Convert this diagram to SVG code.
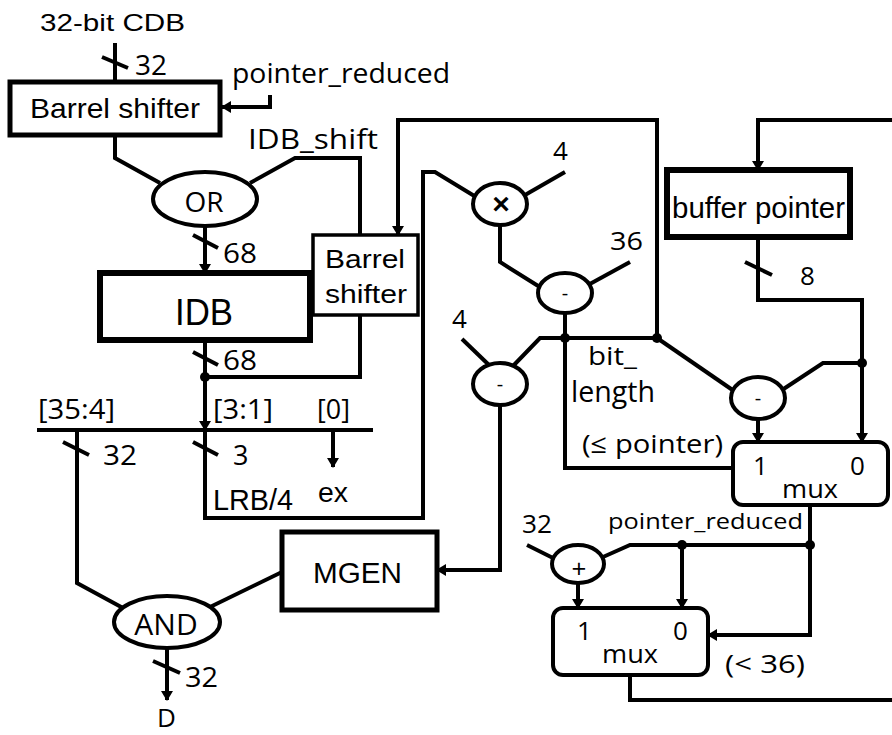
<svg xmlns="http://www.w3.org/2000/svg" width="892" height="735" viewBox="0 0 892 735">
<defs>
<style>
.w{fill:none;stroke:#000;stroke-width:4;stroke-linejoin:miter}
.a{marker-end:url(#ah)}
.box{fill:#fff;stroke:#000}
.ar{font-family:"Liberation Sans",Arial,sans-serif;fill:#000}
.hu{font-family:"Open Sans","Noto Sans",sans-serif;fill:#000}
.dot{fill:#000}
</style>
<marker id="ah" viewBox="0 0 10 12" refX="9" refY="6" markerWidth="10" markerHeight="12" markerUnits="userSpaceOnUse" orient="auto">
<path d="M0,0 L10,6 L0,12 z" fill="#000"/>
</marker>
</defs>
<rect width="892" height="735" fill="#fff"/>
<g id="connectors">
<path class="w" d="M115,43 V82"/>
<path class="w" d="M102,57 L128,68"/>
<path class="w a" d="M270,95 V107 H222"/>
<path class="w" d="M115,135 V158 L160,183"/>
<path class="w" d="M250,183 L295,158 H360 V235"/>
<path class="w a" d="M205,226 V273"/>
<path class="w" d="M193,235 L218,248"/>
<path class="w a" d="M205,340 V430"/>
<path class="w" d="M193,352 L218,365"/>
<path class="w" d="M205,377 H360 V315"/>
<path class="w" d="M37,430 H373"/>
<path class="w" d="M77,430 V583 L123,608"/>
<path class="w" d="M63,442 L89,455"/>
<path class="w" d="M205,430 V518 H423 V172 H435 L476,197"/>
<path class="w" d="M193,442 L218,455"/>
<path class="w a" d="M333,430 V467"/>
<path class="w a" d="M657,338 V120 H398 V235"/>
<path class="w" d="M525,195 L565,172"/>
<path class="w" d="M500,225 V262 L543,289"/>
<path class="w" d="M588,285 L630,262"/>
<path class="w" d="M565,313 V468 H733"/>
<path class="w" d="M513,366 L540,338 H657"/>
<path class="w" d="M462,339 L490,366"/>
<path class="w a" d="M500,405 V570 H437"/>
<path class="w" d="M657,338 L734,391"/>
<path class="w" d="M782,390 L823,363 H862"/>
<path class="w a" d="M758,419 V442"/>
<path class="w a" d="M892,120 H758 V170"/>
<path class="w a" d="M758,237 V300 H862 V442"/>
<path class="w" d="M745,262 L772,275"/>
<path class="w a" d="M810,505 V635 H708"/>
<path class="w" d="M527,545 L553,558"/>
<path class="w" d="M603,557 L630,545 H810"/>
<path class="w a" d="M578,583 V608"/>
<path class="w a" d="M682,545 V608"/>
<path class="w" d="M630,675 V700 H892"/>
<path class="w" d="M282,572 L208,608"/>
<path class="w a" d="M167,648 V700"/>
<path class="w" d="M153,661 L180,673"/>
<circle class="dot" cx="205" cy="377" r="5"/>
<circle class="dot" cx="565" cy="338" r="5"/>
<circle class="dot" cx="657" cy="338" r="5"/>
<circle class="dot" cx="862" cy="363" r="5"/>
<circle class="dot" cx="682" cy="545" r="5"/>
<circle class="dot" cx="810" cy="545" r="5"/>
</g>
<g id="labels">
<text class="ar" x="40" y="31" font-size="24" textLength="145" lengthAdjust="spacingAndGlyphs">32-bit CDB</text>
<text class="hu" x="135" y="75" font-size="28" textLength="32" lengthAdjust="spacingAndGlyphs">32</text>
<text class="hu" x="232" y="83" font-size="27" textLength="218" lengthAdjust="spacingAndGlyphs">pointer_reduced</text>
<text class="hu" x="248" y="149" font-size="27" textLength="130" lengthAdjust="spacingAndGlyphs">IDB_shift</text>
<text class="hu" x="223" y="263" font-size="27" textLength="34" lengthAdjust="spacingAndGlyphs">68</text>
<text class="hu" x="223" y="370" font-size="27" textLength="34" lengthAdjust="spacingAndGlyphs">68</text>
<text class="hu" x="38" y="419" font-size="27" textLength="77" lengthAdjust="spacingAndGlyphs">[35:4]</text>
<text class="hu" x="213" y="419" font-size="27" textLength="60" lengthAdjust="spacingAndGlyphs">[3:1]</text>
<text class="hu" x="317" y="419" font-size="27" textLength="33" lengthAdjust="spacingAndGlyphs">[0]</text>
<text class="hu" x="103" y="465" font-size="27" textLength="34" lengthAdjust="spacingAndGlyphs">32</text>
<text class="hu" x="233" y="465" font-size="27">3</text>
<text class="ar" x="318" y="502" font-size="28" textLength="30" lengthAdjust="spacingAndGlyphs">ex</text>
<text class="ar" x="213" y="510" font-size="29" textLength="80" lengthAdjust="spacingAndGlyphs">LRB/4</text>
<text class="hu" x="185" y="687" font-size="27" textLength="33" lengthAdjust="spacingAndGlyphs">32</text>
<text class="hu" x="157" y="727" font-size="26">D</text>
<text class="hu" x="553" y="160" font-size="26">4</text>
<text class="hu" x="610" y="250" font-size="26" textLength="33" lengthAdjust="spacingAndGlyphs">36</text>
<text class="hu" x="452" y="328" font-size="26">4</text>
<text class="hu" x="800" y="285" font-size="26">8</text>
<text class="hu" x="588" y="365" font-size="26" textLength="49" lengthAdjust="spacingAndGlyphs">bit_</text>
<text class="hu" x="571" y="402" font-size="29" textLength="84" lengthAdjust="spacingAndGlyphs">length</text>
<text class="hu" x="582" y="453" font-size="26" textLength="141" lengthAdjust="spacingAndGlyphs">(≤ pointer)</text>
<text class="hu" x="522" y="533" font-size="26" textLength="30" lengthAdjust="spacingAndGlyphs">32</text>
<text class="hu" x="608" y="529" font-size="21" textLength="195" lengthAdjust="spacingAndGlyphs">pointer_reduced</text>
<text class="hu" x="725" y="673" font-size="26" textLength="80" lengthAdjust="spacingAndGlyphs">(&lt; 36)</text>
</g>
<g id="barrel-shifter-top">
<rect class="box" x="10" y="82" width="210" height="53" stroke-width="5"/>
<text class="ar" x="30" y="118" font-size="28" textLength="170" lengthAdjust="spacingAndGlyphs">Barrel shifter</text>
</g>
<g id="or">
<ellipse class="box" cx="205" cy="199" rx="52" ry="27" stroke-width="4"/>
<text class="hu" x="204" y="212" font-size="28" text-anchor="middle">OR</text>
</g>
<g id="idb">
<rect class="box" x="100" y="273" width="210" height="67" stroke-width="6"/>
<text class="ar" x="175" y="325" font-size="37" textLength="58" lengthAdjust="spacingAndGlyphs">IDB</text>
</g>
<g id="barrel-shifter-small">
<rect class="box" x="313" y="235" width="105" height="80" stroke-width="3.5"/>
<text class="ar" x="325" y="268" font-size="26" textLength="80" lengthAdjust="spacingAndGlyphs">Barrel</text>
<text class="ar" x="325" y="303" font-size="26" textLength="82" lengthAdjust="spacingAndGlyphs">shifter</text>
</g>
<g id="mul">
<ellipse class="box" cx="500" cy="204" rx="27" ry="21" stroke-width="4"/>
<text class="ar" x="501" y="214" font-size="30" font-weight="bold" text-anchor="middle">×</text>
</g>
<g id="sub-mid">
<ellipse class="box" cx="565" cy="293" rx="27" ry="20" stroke-width="4"/>
<text class="hu" x="565" y="300" font-size="20" text-anchor="middle">-</text>
</g>
<g id="sub-left">
<ellipse class="box" cx="500" cy="384" rx="27" ry="21" stroke-width="4"/>
<text class="hu" x="500" y="391" font-size="20" text-anchor="middle">-</text>
</g>
<g id="sub-right">
<ellipse class="box" cx="758" cy="398" rx="27" ry="21" stroke-width="4"/>
<text class="hu" x="758" y="405" font-size="20" text-anchor="middle">-</text>
</g>
<g id="buffer-pointer">
<rect class="box" x="667" y="170" width="183" height="67" stroke-width="6"/>
<text class="ar" x="672" y="218" font-size="29" textLength="173" lengthAdjust="spacingAndGlyphs">buffer pointer</text>
</g>
<g id="mux-upper">
<rect class="box" x="733" y="442" width="155" height="63" rx="10" stroke-width="4"/>
<text class="hu" x="753" y="475" font-size="26">1</text>
<text class="hu" x="850" y="475" font-size="26">0</text>
<text class="hu" x="782" y="498" font-size="26" textLength="56" lengthAdjust="spacingAndGlyphs">mux</text>
</g>
<g id="add">
<ellipse class="box" cx="578" cy="564" rx="26" ry="19" stroke-width="4"/>
<text class="hu" x="579" y="578" font-size="26" text-anchor="middle">+</text>
</g>
<g id="mux-lower">
<rect class="box" x="553" y="608" width="155" height="67" rx="10" stroke-width="4"/>
<text class="hu" x="577" y="640" font-size="26">1</text>
<text class="hu" x="673" y="640" font-size="26">0</text>
<text class="hu" x="602" y="663" font-size="26" textLength="56" lengthAdjust="spacingAndGlyphs">mux</text>
</g>
<g id="mgen">
<rect class="box" x="282" y="532" width="155" height="78" stroke-width="5"/>
<text class="ar" x="313" y="583" font-size="29" textLength="89" lengthAdjust="spacingAndGlyphs">MGEN</text>
</g>
<g id="and">
<ellipse class="box" cx="167" cy="622" rx="53" ry="26" stroke-width="4"/>
<text class="hu" x="166" y="635" font-size="30" text-anchor="middle">AND</text>
</g>
</svg>
